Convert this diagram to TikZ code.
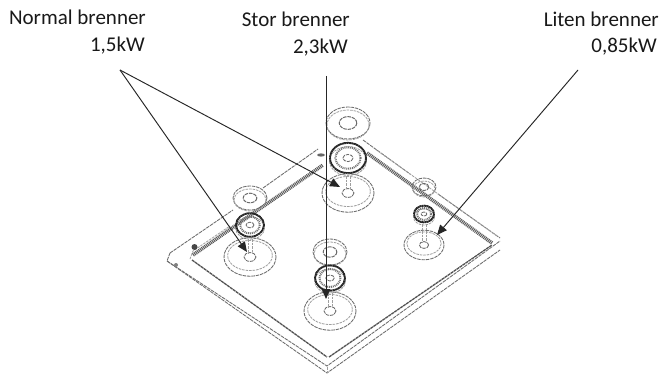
\documentclass[tikz,border=0pt]{standalone}
\usepackage{fontspec}
\setmainfont{Carlito}
\usetikzlibrary{arrows.meta}
\tikzset{
  x=1pt,y=-1pt,
  sketch/.style={draw=black!58,line width=0.85pt,dash pattern=on 3.5pt off 0.9pt},
  sketchlight/.style={draw=black!38,line width=0.8pt,dash pattern=on 2.5pt off 1pt},
  hatchband/.style={draw=black!65,line width=3.6pt,dash pattern=on 1pt off 0.8pt},
  heavy/.style={draw=black!68,line width=1.3pt,dash pattern=on 3pt off 0.6pt},
  callout/.style={draw=black!85,line width=0.95pt,-{Triangle[length=10pt,width=8.5pt]}},
  lbl/.style={font=\fontsize{21pt}{23pt}\selectfont,text=black!90,inner sep=0pt,anchor=base east},
  darkring/.style={draw=black!85,line width=1.9pt,dash pattern=on 2pt off 0.4pt},
  crownfill/.style={draw=black!55,line width=2pt,dash pattern=on 1pt off 0.9pt},
}
\newcommand{\burner}[8]{% x, top y, rx, ry, dark y, rx, base y, rx
  % top ring
  \draw[sketch] (#1,#2) ellipse [x radius=#3,y radius=#4];
  \draw[sketchlight] (#1,#2+2) ellipse [x radius=#3-1,y radius=#4-1];
  \draw[sketch,line width=1pt] (#1,#2) ellipse [x radius=#3*0.4,y radius=#4*0.4];
  % dark crown
  \draw[sketchlight] (#1,#5+3) ellipse [x radius=#6+0.5,y radius=#6*0.8];
  \draw[crownfill] (#1,#5) ellipse [x radius=#6*0.7,y radius=#6*0.6];
  \draw[darkring] (#1,#5) ellipse [x radius=#6,y radius=#6*0.84];
  \draw[sketch] (#1,#5) ellipse [x radius=#6*0.28,y radius=#6*0.2];
  % base disc
  \draw[sketch] (#1,#7) ellipse [x radius=#8,y radius=#8*0.74];
  \draw[sketchlight] (#1,#7-1.5) ellipse [x radius=#8*0.86,y radius=#8*0.58];
  \draw[sketch] (#1,#7) ellipse [x radius=#8*0.23,y radius=#8*0.17];
  \draw[sketchlight] (#1-2,#5+#6) -- (#1-2,#7-3) (#1+2,#5+#6) -- (#1+2,#7-3);
}
\begin{document}
\begin{tikzpicture}
\useasboundingbox (0,0) rectangle (660,374);
\fill[white] (0,0) rectangle (660,374);

% hob outline
\draw[sketch] (170,253) -- (233,210) (263,188) -- (318,149);
\draw[sketch] (363,140) -- (410,174) (438,194) -- (500,238);
\draw[sketch] (170,253) -- (167,261) -- (177,268) -- (327,373) -- (500,250);
\draw[sketch] (167,261) -- (327,366) -- (500,241);
\draw[sketchlight] (327,373) -- (327,366);
% inner frame
\draw[hatchband] (193,255) -- (323,165);
\draw[hatchband] (367,153) -- (492,243);
\draw[sketchlight] (190,259) -- (193,251) -- (230,226);
\draw[sketchlight] (375,149) -- (497,236);
\draw[heavy] (192,260) -- (327,357);
\draw[heavy] (329,357) -- (492,245);
% small knobs at the corner
\fill[black!72] (194.5,247) circle [radius=3];
\fill[black!50] (176,265) circle [radius=2];
\fill[black!60] (321,155) ellipse [x radius=4,y radius=1.6];

\burner{250}{198}{17}{12}{225}{14}{257}{26}
\burner{348}{123}{22}{16}{158}{18}{193}{26}
\burner{424}{187}{12}{9}{214}{10}{245}{20}
\burner{330}{252}{17}{13}{278}{15}{311}{26}

% labels
\node[lbl] (normal) at (146,25) {Normal brenner};
\node[lbl] (normalkw) at (145,51.5) {1,5kW};
\node[lbl] (stor) at (350,27) {Stor brenner};
\node[lbl] (storkw) at (348,54) {2,3kW};
\node[lbl] (liten) at (659,27) {Liten brenner};
\node[lbl] (litenkw) at (657,53) {0,85kW};

% connector ends
\coordinate (n1) at (120,70);
\coordinate (s1) at (326,76);
\coordinate (l1) at (578,70);
\coordinate (tl) at (247,252);
\coordinate (tc) at (340,187);
\coordinate (tf) at (326,299);
\coordinate (tr) at (437,235);
\draw[callout] (n1) -- (tl);
\draw[callout] (n1) -- (tc);
\draw[callout] (s1) -- (tf);
\draw[callout] (l1) -- (tr);
\end{tikzpicture}
\end{document}
